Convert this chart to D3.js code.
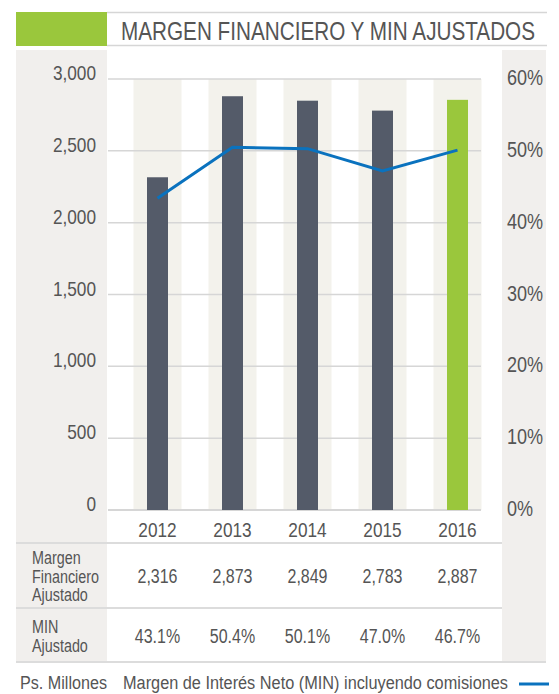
<!DOCTYPE html>
<html>
<head>
<meta charset="utf-8">
<script src="https://cdn.jsdelivr.net/npm/d3@7"></script>
<style>
  body { margin: 0; background: #fff; }
  text { font-family: "Liberation Sans", Arial, sans-serif; fill: #555; }
</style>
</head>
<body>
<svg id="grafico"></svg>
<script>
// datos
let anios = ['2012', '2013', '2014', '2015', '2016']
let margenBarras = [2316, 2880, 2849, 2780, 2855]
let minLinea = [43.4, 50.5, 50.3, 47.2, 50.1]
let margenTabla = [2316, 2873, 2849, 2783, 2887]
let minTabla = [43.1, 50.4, 50.1, 47.0, 46.7]
let ticksMargen = [0, 500, 1000, 1500, 2000, 2500, 3000]
let ticksMin = [0, 10, 20, 30, 40, 50, 60]

// comprime el texto (no hay fuente condensada instalada)
function condensar(sel, k) {
  sel.each(function () {
    let w = this.getComputedTextLength()
    d3.select(this).attr('textLength', w * k).attr('lengthAdjust', 'spacingAndGlyphs')
  })
  return sel
}

onload = () => {
  let svg = d3.select('#grafico')
    .attr('width', 559)
    .attr('height', 694)

  let gris = '#f1efed'
  let linea = '#d6d6d6'
  let k = 0.82

  // paneles grises laterales
  svg.append('rect').attr('x', 16).attr('y', 50).attr('width', 91).attr('height', 612).attr('fill', gris)
  svg.append('rect').attr('x', 502).attr('y', 50).attr('width', 44).attr('height', 612).attr('fill', gris)

  // encabezado
  svg.append('rect').attr('x', 16).attr('y', 12).attr('width', 91).attr('height', 34).attr('fill', '#9ac73c')
  svg.append('line').attr('x1', 107).attr('x2', 547).attr('y1', 12.5).attr('y2', 12.5).attr('stroke', linea).attr('stroke-width', 1.5)
  svg.append('line').attr('x1', 107).attr('x2', 547).attr('y1', 45.5).attr('y2', 45.5).attr('stroke', linea).attr('stroke-width', 1.5)
  svg.append('text')
    .attr('x', 121).attr('y', 40)
    .attr('textLength', 414).attr('lengthAdjust', 'spacingAndGlyphs')
    .style('font-size', '25px')
    .text('MARGEN FINANCIERO Y MIN AJUSTADOS')

  // escalas
  let fnX = d3.scaleBand().domain(anios).range([120, 495])
  let fnY = d3.scaleLinear().domain([0, 3000]).range([510, 79])
  let fnY2 = d3.scaleLinear().domain([0, 60]).range([510, 79])
  let centro = (a) => fnX(a) + fnX.bandwidth() / 2

  // columnas sombreadas
  svg.selectAll('.sombra').data(anios).enter().append('rect')
    .attr('x', d => centro(d) - 24)
    .attr('y', fnY(3000))
    .attr('width', 48)
    .attr('height', fnY(0) - fnY(3000))
    .attr('fill', '#f3f2ec')

  // grade
  svg.selectAll('.grade').data(ticksMargen).enter().append('line')
    .attr('x1', 108).attr('x2', 481)
    .attr('y1', d => fnY(d)).attr('y2', d => fnY(d))
    .attr('stroke', linea)
    .attr('stroke-width', d => d == 0 ? 2 : 1.5)

  // eje izquierdo
  svg.selectAll('.rotY').data(ticksMargen).enter().append('text')
    .attr('x', 96).attr('y', d => fnY(d) + 1)
    .attr('text-anchor', 'end')
    .style('font-size', '21px')
    .text(d => d3.format(',')(d))
    .call(condensar, k)

  // eje derecho
  svg.selectAll('.rotY2').data(ticksMin).enter().append('text')
    .attr('x', 507).attr('y', d => fnY2(d) + 6)
    .style('font-size', '22px')
    .text(d => d + '%')
    .call(condensar, k)

  // barras
  svg.selectAll('.barra').data(margenBarras).enter().append('rect')
    .attr('x', (d, i) => centro(anios[i]) - 10.5)
    .attr('y', d => fnY(d))
    .attr('width', 21)
    .attr('height', d => fnY(0) - fnY(d))
    .attr('fill', (d, i) => i == anios.length - 1 ? '#9ac73c' : '#545b69')

  // linea MIN
  let fnLinea = d3.line()
    .x((d, i) => centro(anios[i]))
    .y(d => fnY2(d))
  svg.append('path')
    .datum(minLinea)
    .attr('d', fnLinea)
    .attr('fill', 'none')
    .attr('stroke', '#0a72be')
    .attr('stroke-width', 3)

  // rotulos de anios
  svg.selectAll('.anio').data(anios).enter().append('text')
    .attr('x', d => centro(d)).attr('y', 537)
    .attr('text-anchor', 'middle')
    .style('font-size', '21px')
    .text(d => d)
    .call(condensar, k)

  // tabla
  let filas = [543, 608]
  svg.selectAll('.fila').data(filas).enter().append('line')
    .attr('x1', 16).attr('x2', 502)
    .attr('y1', d => d).attr('y2', d => d)
    .attr('stroke', '#dcdcdc').attr('stroke-width', 2)
  svg.append('line').attr('x1', 16).attr('x2', 546).attr('y1', 662).attr('y2', 662)
    .attr('stroke', '#dcdcdc').attr('stroke-width', 2)

  let etiquetas = [
    {t: 'Margen', y: 564}, {t: 'Financiero', y: 582.5}, {t: 'Ajustado', y: 601},
    {t: 'MIN', y: 633}, {t: 'Ajustado', y: 651.5}
  ]
  svg.selectAll('.etiqueta').data(etiquetas).enter().append('text')
    .attr('x', 32).attr('y', d => d.y)
    .style('font-size', '17.5px')
    .text(d => d.t)
    .call(condensar, k)

  svg.selectAll('.valor1').data(margenTabla).enter().append('text')
    .attr('x', (d, i) => centro(anios[i])).attr('y', 583)
    .attr('text-anchor', 'middle')
    .style('font-size', '19.5px')
    .text(d => d3.format(',')(d))
    .call(condensar, k)

  svg.selectAll('.valor2').data(minTabla).enter().append('text')
    .attr('x', (d, i) => centro(anios[i])).attr('y', 643)
    .attr('text-anchor', 'middle')
    .style('font-size', '19.5px')
    .text(d => d.toFixed(1) + '%')
    .call(condensar, k)

  // pie
  svg.append('text').attr('x', 20).attr('y', 689).style('font-size', '18px')
    .attr('textLength', 87).attr('lengthAdjust', 'spacingAndGlyphs')
    .text('Ps. Millones')
  svg.append('text').attr('x', 123).attr('y', 689).style('font-size', '18px')
    .attr('textLength', 385).attr('lengthAdjust', 'spacingAndGlyphs')
    .text('Margen de Interés Neto (MIN) incluyendo comisiones')
  svg.append('line').attr('x1', 519).attr('x2', 549).attr('y1', 684).attr('y2', 684)
    .attr('stroke', '#0a72be').attr('stroke-width', 3)
}
</script>
</body>
</html>
